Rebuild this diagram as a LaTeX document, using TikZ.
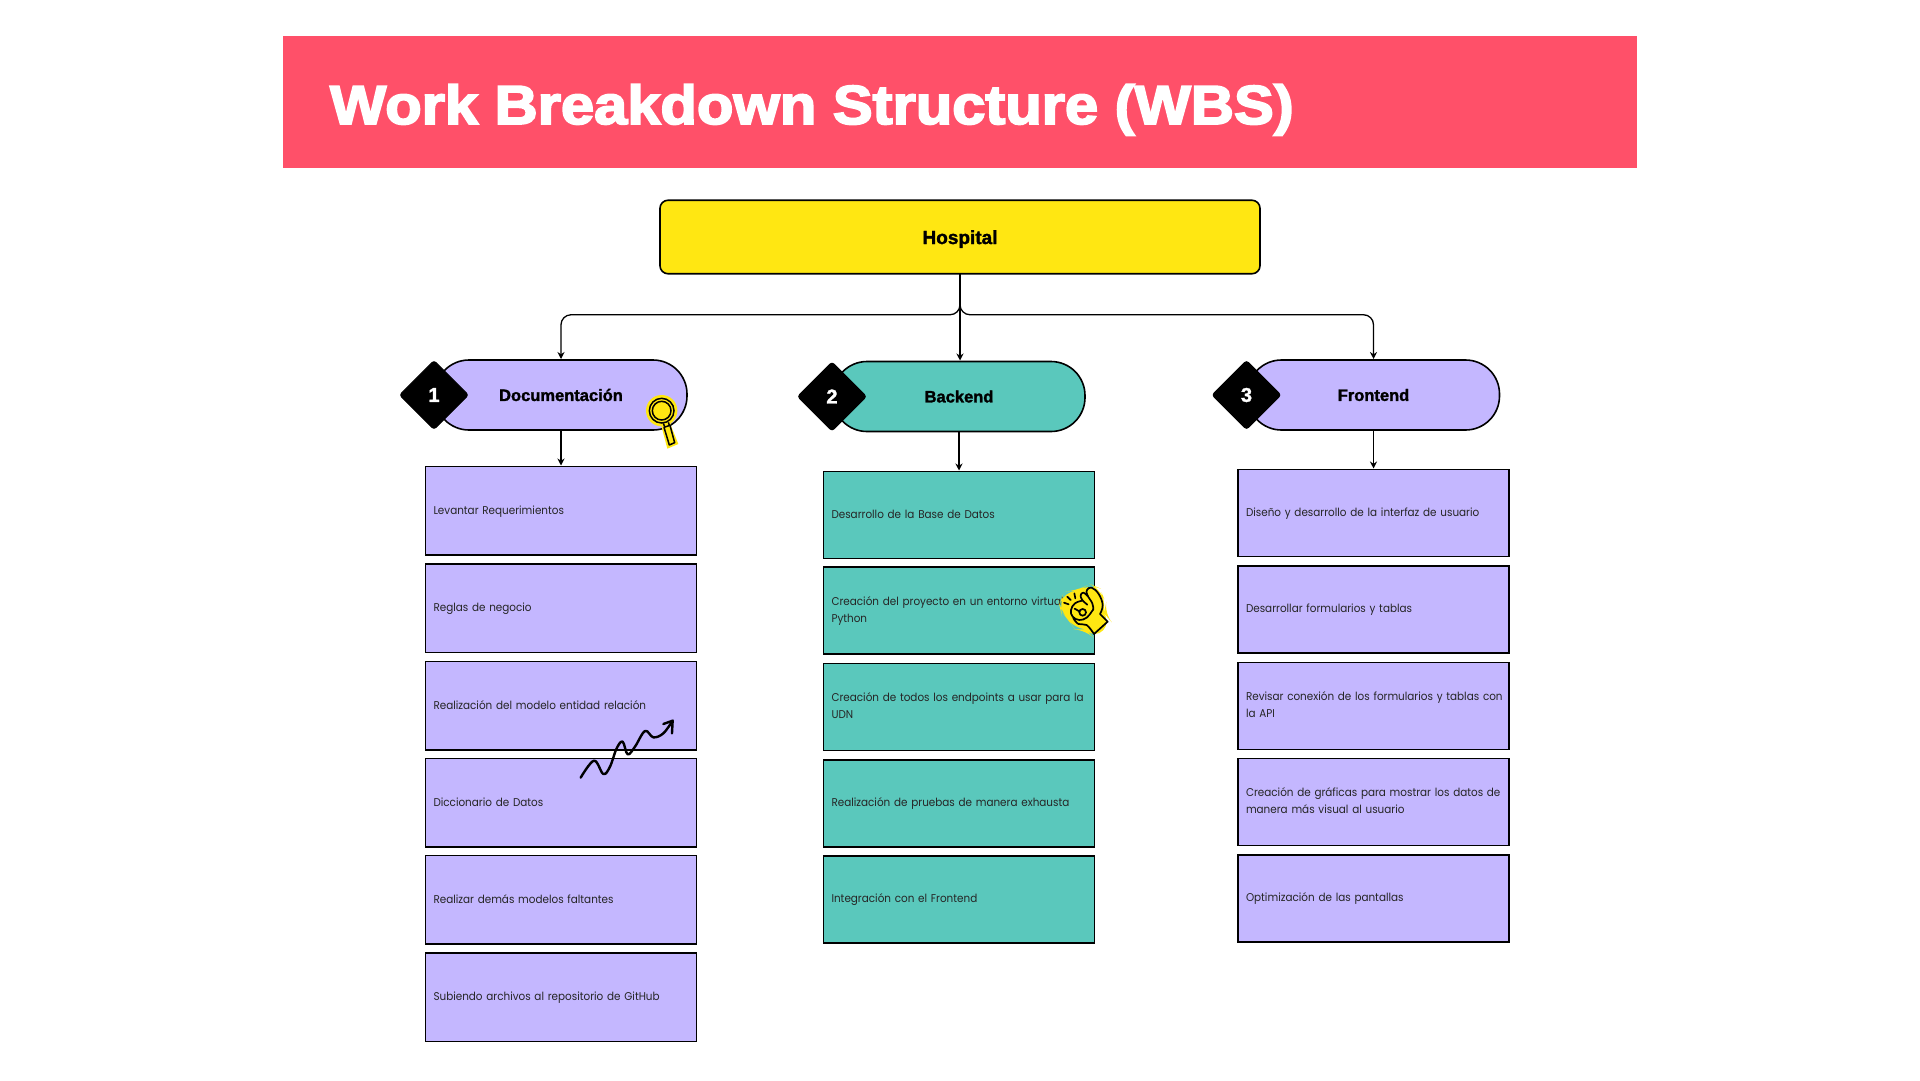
\documentclass[tikz,border=0pt]{standalone}
\usepackage{fontspec}
\usepackage{graphicx}
\usetikzlibrary{arrows.meta,shapes.geometric}
\setmainfont{Poppins}[FakeStretch=0.92]
\newfontfamily\heavy[FakeBold=1.6]{Liberation Sans Bold}
\newfontfamily\heavytitle[FakeBold=3.2]{Liberation Sans Bold}
\definecolor{banner}{HTML}{FF5069}
\definecolor{yel}{HTML}{FFE712}
\definecolor{lav}{HTML}{C4B7FF}
\definecolor{tea}{HTML}{5AC8BC}
\tikzset{
 every node/.style={outer sep=0pt},
 wbsbox/.style={draw=black,line width=1.2pt,rectangle,anchor=north west,minimum width=271pt,minimum height=88.5pt,inner xsep=8pt,inner ysep=0pt,text width=255pt,align=left,text=black!85,font=\fontsize{11.3}{17}\selectfont,execute at begin node=\strut,execute at end node=\strut},
 pill/.style={draw=black,line width=1.6pt,rectangle,rounded corners=34pt,minimum width=252pt,minimum height=70pt,inner sep=0pt,font=\heavy\fontsize{16.5}{18}\selectfont},
 num/.style={diamond,aspect=1,draw=black,fill=black,line width=1pt,rounded corners=3pt,minimum width=69pt,minimum height=69pt,inner sep=0pt,text=white,font=\heavy\fontsize{20}{20}\selectfont},
 conn/.style={draw=black,line width=1.3pt,rounded corners=10pt,-{Stealth[length=7pt,width=7pt]},shorten >=1pt},
 lavbox/.style={wbsbox,fill=lav},
 lavboxs/.style={wbsbox,fill=lav,minimum height=87pt},
 teabox/.style={wbsbox,fill=tea,minimum height=87pt}
}
\begin{document}
\begin{tikzpicture}[x=1pt,y=-1pt]
\useasboundingbox (0,0) rectangle (1920,1080);
\fill[white] (0,0) rectangle (1920,1080);
\node[fill=banner,rectangle,anchor=north west,minimum width=1354pt,minimum height=132pt,inner sep=0pt] (banner) at (283,36) {};
\node[anchor=base west,inner sep=0pt,text=white,font=\heavytitle\fontsize{55}{60}\selectfont] (title) at (330,124) {\scalebox{1.085}[1]{Work Breakdown Structure (WBS)}};
\node[draw=black,fill=yel,line width=1.6pt,rectangle,rounded corners=8pt,minimum width=600pt,minimum height=73.5pt,inner sep=0pt,font=\heavy\fontsize{19}{20}\selectfont] (hosp) at (960,237) {\smash{\raisebox{-7pt}{Hospital}}};
\node[pill,fill=lav] (doc) at (561,395) {Documentación};
\node[pill,fill=tea] (back) at (959,396.5) {Backend};
\node[pill,fill=lav] (front) at (1373.5,395) {Frontend};
\node[num] (n1) at (434,395) {1};
\node[num] (n2) at (832,396.5) {2};
\node[num] (n3) at (1246.5,395) {3};
% column 1
\node[lavbox] (a1) at (425.5,466.5) {Levantar Requerimientos};
\node[lavbox] (a2) at (425.5,564) {Reglas de negocio};
\node[lavbox] (a3) at (425.5,661.5) {Realización del modelo entidad relación};
\node[lavbox] (a4) at (425.5,758.5) {Diccionario de Datos};
\node[lavbox] (a5) at (425.5,855.5) {Realizar demás modelos faltantes};
\node[lavbox] (a6) at (425.5,953) {Subiendo archivos al repositorio de GitHub};
% column 2
\node[teabox] (b1) at (823.5,471.5) {Desarrollo de la Base de Datos};
\node[teabox] (b2) at (823.5,567) {Creación del proyecto en un entorno virtual\\Python};
\node[teabox] (b3) at (823.5,663.5) {Creación de todos los endpoints a usar para la\\UDN};
\node[teabox] (b4) at (823.5,760) {Realización de pruebas de manera exhausta};
\node[teabox] (b5) at (823.5,856) {Integración con el Frontend};
% column 3
\node[lavboxs] (c1) at (1238,469.5) {Diseño y desarrollo de la interfaz de usuario};
\node[lavboxs] (c2) at (1238,566) {Desarrollar formularios y tablas};
\node[lavboxs] (c3) at (1238,662.5) {\mbox{Revisar conexión de los formularios y tablas con}\\la API};
\node[lavboxs] (c4) at (1238,758.5) {Creación de gráficas para mostrar los datos de\\manera más visual al usuario};
\node[lavboxs] (c5) at (1238,855) {Optimización de las pantallas};
% connectors
\draw[conn] (hosp.south) -- ++(0,41) -| (doc.north);
\draw[conn] (hosp.south) -- (back.north -| hosp.south);
\draw[conn] (hosp.south) -- ++(0,41) -| (front.north);
\draw[conn] (doc.south) -- (a1.north);
\draw[conn] (back.south) -- (b1.north);
\draw[conn] (front.south) -- (c1.north);
% magnifier
\begin{scope}[shift={(620,380)},x=0.3333pt,y=-0.3333pt]
 \fill[yel] (125,92) circle[radius=47pt/3];
 \fill[yel] (122,130) -- (148,125) -- (175,192) -- (142,206) -- cycle;
 \draw[black,line width=1.5pt] (125,92) circle[radius=37pt/3];
 \draw[black,line width=1.5pt] (125,92) circle[radius=28pt/3];
 \draw[black,line width=1.5pt] (130,130) -- (134,140) (145,127) -- (148,136);
 \draw[black,line width=1.5pt,line join=round] (132,142) -- (150,136) -- (164,188) -- (148,195) -- cycle;
\end{scope}
% hand
\begin{scope}[shift={(1040,570)},x=0.3333pt,y=-0.3333pt]
 \fill[yel,rounded corners=12pt] (58,105) -- (72,65) -- (112,62) -- (150,42) -- (180,55) -- (198,100) -- (192,130) -- (214,155) -- (165,207) -- (135,178) -- (105,178) -- (85,150) -- (62,122) -- cycle;
 \draw[black,line width=1.7pt,line cap=round,line join=round] (162,192) -- (203,155) -- (180,132) plot[smooth,tension=0.7] coordinates {(180,132) (188,105) (176,72) (155,53) (141,60) (142,75) (157,100) (160,118)};
 \draw[black,line width=1.7pt,line cap=round,line join=round] plot[smooth,tension=0.7] coordinates {(143,78) (130,68) (122,76) (127,90) (142,104)};
 \draw[black,line width=1.7pt,line cap=round,line join=round] plot[smooth,tension=0.7] coordinates {(127,92) (105,100) (93,120) (98,140) (118,150) (140,143) (155,125) (160,118)};
 \draw[black,line width=1.7pt,line cap=round,line join=round] plot[smooth,tension=0.6] coordinates {(100,145) (115,162) (140,165) (162,192)};
 \draw[black,line width=1.7pt] (128,127) circle[radius=10pt/3];
 \draw[black,line width=1.7pt,line cap=round] (118,124) -- (104,116);
 \draw[black,line width=1.7pt,line cap=round] (72,98) -- (86,103) (82,80) -- (92,90) (103,70) -- (106,85);
\end{scope}
% squiggle
\begin{scope}[shift={(560,700)},x=0.3333pt,y=-0.3333pt]
 \draw[black,line width=2.4pt,line cap=round,line join=round] plot[smooth,tension=0.6] coordinates {(62,233) (102,182) (130,222) (150,200) (170,145) (188,125) (203,163) (225,140) (255,93) (280,112) (310,100) (338,62)};
 \draw[black,line width=2.4pt,line cap=round,line join=round] (310,72) -- (338,62) -- (336,100);
\end{scope}
\end{tikzpicture}
\end{document}
